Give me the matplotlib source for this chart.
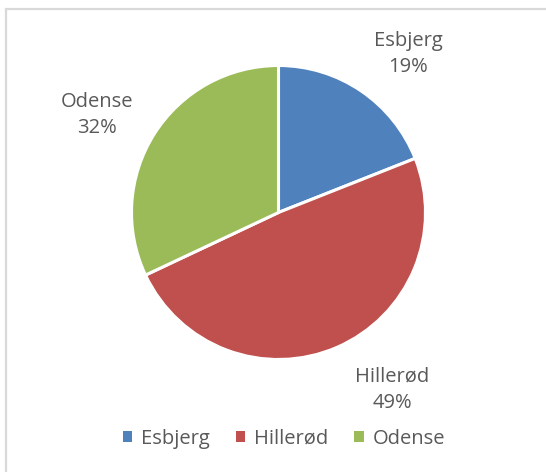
import matplotlib
matplotlib.use("Agg")
import matplotlib.pyplot as plt
from matplotlib.patches import Patch, Rectangle

categories = ["Esbjerg", "Hillerød", "Odense"]
values = [19, 49, 32]
colors = ["#4F81BD", "#C0504D", "#9BBB59"]

W, H = 546, 472
plt.rcParams['font.family'] = ['Open Sans', 'DejaVu Sans']
text_color = "#595959"

fig = plt.figure(figsize=(W / 100, H / 100), dpi=100)
ax = fig.add_axes([0, 0, 1, 1])

cx, cy, r = 278.5, H - 212.5, 147
wedges, _ = ax.pie(values, colors=colors, startangle=90, counterclock=False,
                   center=(cx, cy), radius=r,
                   wedgeprops=dict(edgecolor="white", linewidth=2.2))
ax.set_xlim(0, W)
ax.set_ylim(0, H)
ax.set_aspect("equal")
ax.axis("off")

# outer border of chart area
fig.patches.append(Rectangle((6 / W, -0.1), 1.2, (H - 9) / H + 0.1,
                             transform=fig.transFigure, fill=False,
                             edgecolor="#D9D9D9", linewidth=1.6))

label_pos = {"Esbjerg": (408, 54), "Hillerød": (392, 390), "Odense": (97, 115)}
total = sum(values)
for cat, v in zip(categories, values):
    x, y = label_pos[cat]
    ax.text(x, H - y, f"{cat}\n{round(100 * v / total)}%", ha="center", va="center",
            fontsize=14.5, color=text_color, linespacing=1.4)

handles = [Patch(facecolor=c, edgecolor="none") for c in colors]
fig.legend(handles, categories, loc="center", bbox_to_anchor=(284 / W, 1 - 439 / H),
           ncol=3, frameon=False, fontsize=14.5, labelcolor=text_color,
           handlelength=0.45, handleheight=0.45, handletextpad=0.45,
           columnspacing=1.3)

fig.savefig("out.png", dpi=100)
